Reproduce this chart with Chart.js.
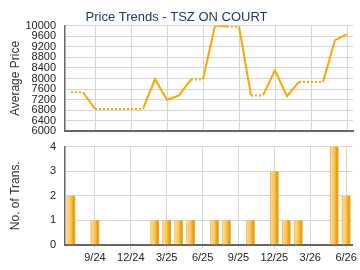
<!DOCTYPE html>
<html lang="en">
<head>
<meta charset="UTF-8">
<title>Price Trends - TSZ ON COURT</title>
<script src="https://cdn.jsdelivr.net/npm/chart.js@4.4.0/dist/chart.umd.min.js"></script>
<style>
    body { margin: 0; background: #fff; }
    #wrap { position: relative; width: 360px; height: 270px; }
    #priceChart { position: absolute; left: 0; top: 0; }
    #transChart { position: absolute; left: 0; top: 131px; }
</style>
</head>
<body>
<div id="wrap">
    <canvas id="priceChart" width="360" height="147"></canvas>
    <canvas id="transChart" width="360" height="139"></canvas>
</div>
<script>
    // monthly data, 7/24 .. 6/26
    const months = ['7/24','8/24','9/24','10/24','11/24','12/24','1/25','2/25','3/25','4/25','5/25','6/25',
                    '7/25','8/25','9/25','10/25','11/25','12/25','1/26','2/26','3/26','4/26','5/26','6/26'];
    const avgPrice = [7480,7480,6850,6850,6850,6850,6850,7980,7190,7360,7960,7960,
                      10000,9970,9970,7360,7360,8310,7330,7870,7870,7870,9450,9680];
    const transCount = [2,0,1,0,0,0,0,1,1,1,1,0,1,1,0,1,0,3,1,1,0,0,4,2];
    const quarterLabels = ['9/24','12/24','3/25','6/25','9/25','12/25','3/26','6/26'];

    const FONT = 'Arial, "Liberation Sans", sans-serif';
    const gridGray = '#d6d6d6';
    const axisGray = '#666';

    Chart.defaults.font.family = FONT;
    Chart.defaults.color = '#333';

    function quarterGrid(c) {
        return quarterLabels.includes(months[c.index]) ? gridGray : 'rgba(0,0,0,0)';
    }

    function fixWidth(scale) { scale.width = 65; }

    function barFill(c) {
        const chart = c.chart;
        const xs = chart.scales.x;
        if (!xs || c.type !== 'data') return '#F5B330';
        const cx = xs.getPixelForValue(c.dataIndex);
        if (!isFinite(cx)) return '#F5B330';
        const g = chart.ctx.createLinearGradient(cx - 4.5, 0, cx + 4.5, 0);
        g.addColorStop(0, '#EDA21C');
        g.addColorStop(0.15, '#FDD88E');
        g.addColorStop(0.5, '#F9C558');
        g.addColorStop(0.8, '#E99A0E');
        g.addColorStop(1, '#F2AE30');
        return g;
    }

    new Chart(document.getElementById('priceChart'), {
        type: 'line',
        data: {
            labels: months,
            datasets: [{
                data: avgPrice,
                borderColor: '#FFA500',
                borderWidth: 2,
                pointRadius: 0,
                tension: 0,
                segment: {
                    borderDash: ctx => transCount[ctx.p1DataIndex] === 0 ? [2, 2] : undefined
                }
            }]
        },
        options: {
            responsive: false,
            animation: false,
            layout: { padding: { left: 0, right: 7, top: 0, bottom: 5 } },
            plugins: {
                legend: { display: false },
                tooltip: { enabled: false },
                title: {
                    display: true,
                    text: 'Price Trends - TSZ ON COURT',
                    color: '#1F3A63',
                    font: { size: 13, weight: 'normal', family: FONT },
                    padding: { top: 10, bottom: 0 }
                }
            },
            scales: {
                x: {
                    offset: true,
                    afterFit: s => { s.height = 0; },
                    grid: { offset: false, color: quarterGrid, drawTicks: false },
                    border: { color: axisGray, width: 2 },
                    ticks: { display: false, autoSkip: false }
                },
                y: {
                    min: 6000,
                    max: 10000,
                    afterFit: fixWidth,
                    grid: { color: gridGray, drawTicks: false },
                    border: { color: axisGray, width: 1.5 },
                    ticks: {
                        stepSize: 400,
                        autoSkip: false,
                        padding: 9,
                        color: '#222',
                        font: { size: 11 },
                        callback: v => String(v)
                    },
                    title: {
                        display: true,
                        text: 'Average Price',
                        color: '#333',
                        font: { size: 12 },
                        padding: { top: 8, bottom: 0 }
                    }
                }
            }
        }
    });

    new Chart(document.getElementById('transChart'), {
        type: 'bar',
        data: {
            labels: months,
            datasets: [{
                data: transCount,
                backgroundColor: barFill,
                borderWidth: 0,
                barPercentage: 0.72,
                categoryPercentage: 1
            }]
        },
        options: {
            responsive: false,
            animation: false,
            layout: { padding: { left: 0, right: 7, top: 6, bottom: 2 } },
            plugins: {
                legend: { display: false },
                tooltip: { enabled: false }
            },
            scales: {
                x: {
                    grid: { offset: false, color: quarterGrid, tickLength: 4 },
                    border: { color: axisGray, width: 2 },
                    ticks: {
                        autoSkip: false,
                        maxRotation: 0,
                        padding: 3,
                        color: '#222',
                        font: { size: 11 },
                        callback: (v, i) => quarterLabels.includes(months[i]) ? months[i] : ''
                    }
                },
                y: {
                    min: 0,
                    max: 4,
                    afterFit: fixWidth,
                    grid: { color: gridGray, drawTicks: false },
                    border: { color: axisGray, width: 1.5 },
                    ticks: { stepSize: 1, padding: 9, color: '#222', font: { size: 11 } },
                    title: {
                        display: true,
                        text: 'No. of Trans.',
                        color: '#333',
                        font: { size: 12 },
                        padding: { top: 8, bottom: 0 }
                    }
                }
            }
        }
    });
</script>
</body>
</html>
